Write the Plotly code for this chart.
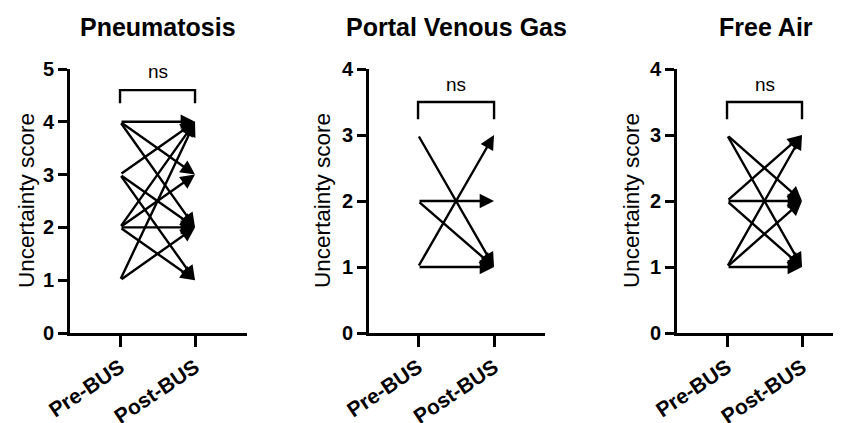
import plotly.graph_objects as go

categories = ["Pre-BUS", "Post-BUS"]
titles = ["Pneumatosis", "Portal Venous Gas", "Free Air"]
y_label = "Uncertainty score"
sig_label = "ns"

pneu_pre = [4, 4, 4, 3, 3, 3, 2, 2, 2, 2, 1, 1]
pneu_post = [4, 3, 2, 4, 2, 1, 4, 3, 2, 1, 4, 2]
pvg_pre = [3, 2, 2, 1, 1]
pvg_post = [1, 2, 1, 3, 1]
fa_pre = [3, 3, 2, 2, 2, 1, 1, 1]
fa_post = [2, 1, 3, 2, 1, 3, 2, 1]

y_max = [5, 4, 4]
y_ticks = [[0, 1, 2, 3, 4, 5], [0, 1, 2, 3, 4], [0, 1, 2, 3, 4]]
bracket_y = [4.6, 3.5, 3.5]
bracket_drop = [4.35, 3.24, 3.24]
ns_y = [4.95, 3.76, 3.76]

# page has an 8px body margin: work in figure pixels = screen pixels - 8
OFF = 8
W, H = 841 - OFF, 423 - OFF
def px(v):
    return (v - OFF) / W
def py(v):
    return 1 - (v - OFF) / H

x_domains = [[px(70), px(247)], [px(369), px(545)], [px(677), 1.0]]
x_ranges = [[-0.667, 1.693], [-0.645, 1.67], [-0.667, 1.52]]
y_domain = [py(333), py(69)]
title_x = [158, 456, 766]
ylab_x = [27, 323, 632]

FONT = "Liberation Sans, Arial, sans-serif"
fig = go.Figure()
panels = [(pneu_pre, pneu_post), (pvg_pre, pvg_post), (fa_pre, fa_post)]
annotations = []
shapes = []
for i, (pre, post) in enumerate(panels):
    xa = "x" if i == 0 else f"x{i+1}"
    ya = "y" if i == 0 else f"y{i+1}"
    xkey = "xaxis" if i == 0 else f"xaxis{i+1}"
    ykey = "yaxis" if i == 0 else f"yaxis{i+1}"
    fig.add_trace(go.Scatter(x=[0] * len(pre) + [1] * len(post), y=pre + post,
                             mode="markers", marker=dict(opacity=0, size=1),
                             hoverinfo="skip", showlegend=False, xaxis=xa, yaxis=ya))
    fig.update_layout({
        xkey: dict(domain=x_domains[i], range=x_ranges[i], anchor=ya, automargin=False,
                   tickvals=[0, 1], ticktext=categories, tickangle=-34,
                   ticks="outside", ticklen=11, tickwidth=3, tickcolor="black",
                   showline=True, linewidth=3, linecolor="black",
                   showgrid=False, zeroline=False,
                   tickfont=dict(family=FONT, size=21, color="black", weight="bold")),
        ykey: dict(domain=y_domain, range=[0, y_max[i]], anchor=xa, automargin=False,
                   tickvals=y_ticks[i], ticks="outside", ticklen=9, tickwidth=3,
                   tickcolor="black", showline=True, linewidth=3, linecolor="black",
                   showgrid=False, zeroline=False,
                   tickfont=dict(family=FONT, size=20, color="black", weight="bold")),
    })
    for a, b in zip(pre, post):
        annotations.append(dict(x=1, y=b, ax=0, ay=a, xref=xa, yref=ya,
                                axref=xa, ayref=ya, showarrow=True, text="",
                                arrowhead=2, arrowsize=1.2, arrowwidth=2.4,
                                arrowcolor="black", standoff=0, startstandoff=0))
    shapes.append(dict(type="path", xref=xa, yref=ya,
                       path=f"M 0 {bracket_drop[i]} L 0 {bracket_y[i]} L 1 {bracket_y[i]} L 1 {bracket_drop[i]}",
                       line=dict(color="black", width=2.4)))
    annotations.append(dict(x=0.5, y=ns_y[i], xref=xa, yref=ya, text=sig_label,
                            showarrow=False, xanchor="center", yanchor="middle",
                            font=dict(family=FONT, size=19, color="black")))
    annotations.append(dict(x=px(title_x[i]), y=py(27), xref="paper", yref="paper",
                            text=titles[i], showarrow=False, xanchor="center", yanchor="middle",
                            font=dict(family=FONT, size=25, color="black", weight="bold")))
    annotations.append(dict(x=px(ylab_x[i]), y=py(201), xref="paper", yref="paper",
                            text=y_label, textangle=-90, showarrow=False,
                            xanchor="center", yanchor="middle",
                            font=dict(family=FONT, size=22.5, color="black")))

fig.update_layout(width=W, height=H, margin=dict(l=0, r=0, t=0, b=0),
                  template="none",
                  plot_bgcolor="white", paper_bgcolor="white",
                  annotations=annotations, shapes=shapes)
fig.write_html("out.html")
